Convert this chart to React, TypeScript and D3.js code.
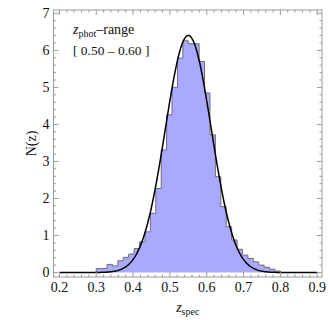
import React from 'react';
import * as d3 from 'd3';

// histogram of z_spec for galaxies with 0.50 < z_phot < 0.60
const binStart = 0.3;
const binEnd = 0.8;
const counts = [
  0.11, 0.11, 0.22, 0.18, 0.32, 0.41, 0.5, 0.65, 0.83, 1.1, 1.6, 2.27,
  3.31, 4.26, 5.0, 5.79, 6.26, 6.18, 6.18, 5.7, 4.85, 3.72, 2.59, 1.78,
  1.24, 0.88, 0.63, 0.47, 0.38, 0.29, 0.2, 0.14, 0.09, 0.04,
];

// gaussian fit drawn over it
const fitMean = 0.55;
const fitSigma = 0.0623;
const curveRange = [0.2, 0.9];

const xTicks = [0.2, 0.3, 0.4, 0.5, 0.6, 0.7, 0.8, 0.9];
const yTicks = [0, 1, 2, 3, 4, 5, 6, 7];

const W = 332;
const H = 320;
const serif = "'Liberation Serif', 'Times New Roman', serif";

const App = () => {
  const x = d3.scaleLinear().domain([0.184, 0.913]).range([53.5, 322]);
  const y = d3.scaleLinear().domain([-0.12, 7.09]).range([277, 10]);
  const [x0, x1] = x.range();
  const [yb, yt] = y.range();

  const binW = (binEnd - binStart) / counts.length;
  const pts = [{ z: binStart, v: 0 }]
    .concat(counts.map((v, i) => ({ z: binStart + i * binW, v })))
    .concat([{ z: binEnd, v: counts[counts.length - 1] }, { z: binEnd, v: 0 }]);

  const area = d3.area<{ z: number; v: number }>()
    .curve(d3.curveStepAfter)
    .x(d => x(d.z))
    .y0(y(0))
    .y1(d => y(d.v));
  const outline = d3.line<{ z: number; v: number }>()
    .curve(d3.curveStepAfter)
    .x(d => x(d.z))
    .y(d => y(d.v));

  const amp = 1 / (fitSigma * Math.sqrt(2 * Math.PI));
  const curvePts = d3.range(0, 301).map(i => {
    const z = curveRange[0] + (i / 300) * (curveRange[1] - curveRange[0]);
    return [z, amp * Math.exp(-((z - fitMean) ** 2) / (2 * fitSigma * fitSigma))];
  });
  const curve = d3.line().x(d => x(d[0])).y(d => y(d[1]));

  const xMinor = d3.range(0.2, 0.9001, 0.02);
  const yMinor = d3.range(0, 7.001, 0.2);
  const frameCol = '#9a9a9a';

  return (
    <svg width={W} height={H} style={{ position: 'absolute', left: 0, top: 0, background: '#fff' }}>
      <path d={area(pts) || ''} fill="#a9a9ff" stroke="none" />
      <path d={outline(pts) || ''} fill="none" stroke="#6e6e6e" strokeWidth={1} />
      <path d={curve(curvePts as [number, number][]) || ''} fill="none" stroke="#000" strokeWidth={1.5} />

      {/* frame */}
      <rect x={x0} y={yt} width={x1 - x0} height={yb - yt} fill="none" stroke={frameCol} strokeWidth={1} />
      {xMinor.map((t, i) => {
        const major = xTicks.some(m => Math.abs(m - t) < 1e-6);
        const len = major ? 5 : 2.5;
        return (
          <g key={'xt' + i} stroke={frameCol}>
            <line x1={x(t)} x2={x(t)} y1={yb} y2={yb - len} />
            <line x1={x(t)} x2={x(t)} y1={yt} y2={yt + len} />
          </g>
        );
      })}
      {yMinor.map((t, i) => {
        const major = yTicks.some(m => Math.abs(m - t) < 1e-6);
        const len = major ? 5 : 2.5;
        return (
          <g key={'yt' + i} stroke={frameCol}>
            <line x1={x0} x2={x0 + len} y1={y(t)} y2={y(t)} />
            <line x1={x1} x2={x1 - len} y1={y(t)} y2={y(t)} />
          </g>
        );
      })}

      <g style={{ fontFamily: serif, fontSize: '14px' }} fill="#111">
        {xTicks.map(t => (
          <text key={'xl' + t} x={x(t)} y={yb + 15} textAnchor="middle">{t.toFixed(1)}</text>
        ))}
        {yTicks.map(t => (
          <text key={'yl' + t} x={x0 - 4} y={y(t) + 4.5} textAnchor="end">{t}</text>
        ))}
        <text transform={`translate(36,${(yb + yt) / 2}) rotate(-90)`} textAnchor="middle">N(z)</text>
        <text x={(x0 + x1) / 2} y={312} textAnchor="middle">
          <tspan fontStyle="italic">z</tspan>
          <tspan style={{ fontSize: '10px' }} dy={3}>spec</tspan>
        </text>
        <text x={73} y={34}>
          <tspan fontStyle="italic">z</tspan>
          <tspan style={{ fontSize: '10px' }} dy={3}>phot</tspan>
          <tspan dy={-3}>–range</tspan>
        </text>
        <text x={73} y={55} style={{ fontSize: '13.5px' }}>[ 0.50 – 0.60 ]</text>
      </g>
    </svg>
  );
};

export default App;
